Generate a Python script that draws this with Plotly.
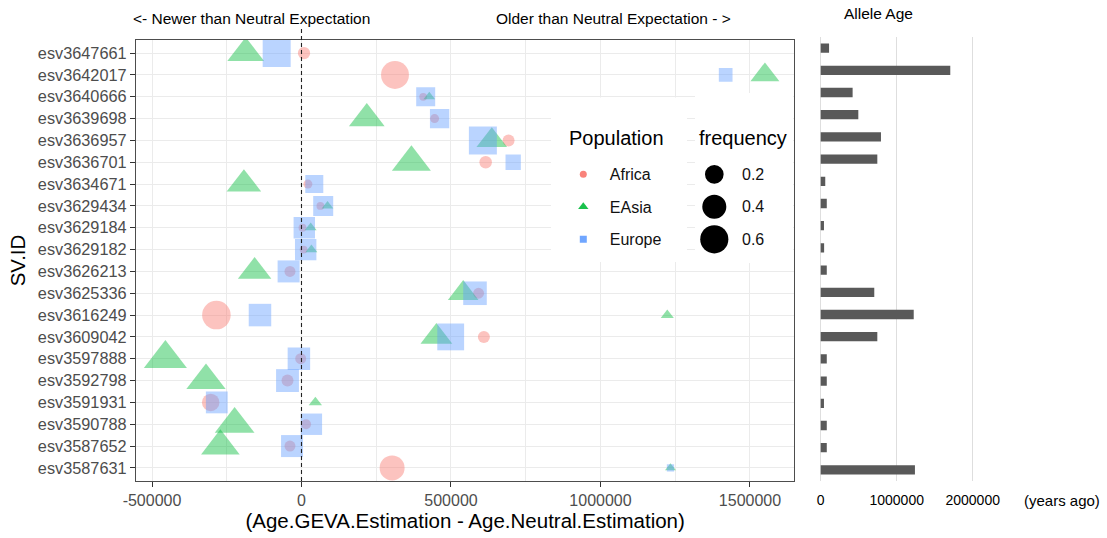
import math
import plotly.graph_objects as go

# ---------------- data ----------------
sv_ids = ["esv3647661", "esv3642017", "esv3640666", "esv3639698", "esv3636957",
          "esv3636701", "esv3634671", "esv3629434", "esv3629184", "esv3629182",
          "esv3626213", "esv3625336", "esv3616249", "esv3609042", "esv3597888",
          "esv3592798", "esv3591931", "esv3590788", "esv3587652", "esv3587631"]

africa_diff = [8400, 312700, 407000, 445200, 692600, 616000, 21400, 63200, 3300, 7000,
               -38500, 592300, -284600, 610000, -2700, -46800, -303700, 15200, -38500, 303100]
africa_freq = [0.052, 0.586, 0.005, 0.013, 0.047, 0.055, 0.013, 0.005, 0.005, 0.005,
               0.033, 0.033, 0.62, 0.047, 0.033, 0.047, 0.166, 0.022, 0.033, 0.443]

easia_diff = [-186600, 1550000, 427400, 218400, 636400, 367600, -192600, 87000, 30800, 33100,
              -156800, 540800, 1223400, 451200, -455200, -319400, 46400, -223700, -271300, 1234000]
easia_freq = [0.42, 0.22, 0.005, 0.39, 0.257, 0.49, 0.356, 0.005, 0.006, 0.006,
              0.327, 0.257, 0.011, 0.286, 0.63, 0.50, 0.012, 0.514, 0.476, 0.003]

europe_diff = [-83000, 1418700, 415400, 461900, 606600, 708000, 42800, 72600, 9400, 14000,
               -43100, 580300, -138800, 499000, -8700, -46800, -283300, 33100, -31600, 1234000]
europe_freq = [0.59, 0.076, 0.21, 0.22, 0.59, 0.11, 0.18, 0.243, 0.293, 0.293,
               0.316, 0.38, 0.336, 0.53, 0.336, 0.35, 0.31, 0.293, 0.316, 0.003]

allele_age = [110000, 1705000, 420000, 495000, 793000, 745000, 60000, 80000, 43000, 45000,
              80000, 705000, 1224000, 745000, 80000, 80000, 43000, 80000, 80000, 1240000]

x_tick_vals = [-500000, 0, 500000, 1000000, 1500000]
x_tick_text = ["-500000", "0", "500000", "1000000", "1500000"]
age_tick_vals = [0, 1000000, 2000000]
age_tick_text = ["0", "1000000", "2000000"]
freq_legend_vals = [0.2, 0.4, 0.6]
freq_legend_text = ["0.2", "0.4", "0.6"]

# ---------------- geometry helpers ----------------
W, H = 1107, 538
ML, MR, MT, MB = 136, 73, 37, 57
PW = W - ML - MR
PH = H - MT - MB


def px_x(px):
    return (px - ML) / PW


def px_y(py):
    return (H - MB - py) / PH


def diam(f):
    # ggplot-like area scale for frequency -> marker diameter (px)
    return 5.7 + 29 * math.sqrt(max(f, 0))


FONT = "Liberation Sans, Arial, Helvetica, sans-serif"
ALPHA = 0.62

fig = go.Figure()

pops = [
    ("Africa", africa_diff, africa_freq, "circle", "248,118,109", 1.0, 7),
    ("EAsia", easia_diff, easia_freq, "triangle-up", "0,186,56", 1.3, 9),
    ("Europe", europe_diff, europe_freq, "square", "97,156,255", 1.0, 7),
]
for name, diff, freq, sym, rgb, k, lsize in pops:
    fig.add_trace(go.Scatter(
        x=diff, y=sv_ids, mode="markers", name=name, showlegend=False,
        marker=dict(symbol=sym, size=[k * diam(f) for f in freq],
                    color=f"rgba({rgb},{ALPHA})", line=dict(width=0)),
        xaxis="x", yaxis="y", cliponaxis=True,
        hovertemplate=name + ": %{x}<extra>%{y}</extra>"))
for name, diff, freq, sym, rgb, k, lsize in pops:
    fig.add_trace(go.Scatter(
        x=[None], y=[None], mode="markers", name=name, legendgroup=name,
        marker=dict(symbol=sym, size=lsize, color=f"rgba({rgb},0.9)", line=dict(width=0)),
        xaxis="x", yaxis="y", showlegend=True))

fig.add_trace(go.Bar(
    x=allele_age, y=sv_ids, orientation="h", xaxis="x2", yaxis="y2",
    marker=dict(color="#595959", line=dict(width=0)), width=0.42, showlegend=False))

shapes = []
# dashed zero line
shapes.append(dict(type="line", xref="x", yref="paper", x0=0, x1=0,
                   y0=px_y(481), y1=px_y(27),
                   line=dict(color="#222222", width=1.1, dash="4px,3px"), layer="above"))
# legend backgrounds
shapes.append(dict(type="rect", xref="paper", yref="paper",
                   x0=px_x(551), x1=px_x(687), y0=px_y(262), y1=px_y(97.5),
                   fillcolor="white", line=dict(width=0), layer="above"))
shapes.append(dict(type="rect", xref="paper", yref="paper",
                   x0=px_x(695), x1=px_x(793), y0=px_y(263), y1=px_y(93),
                   fillcolor="white", line=dict(width=0), layer="above"))
legend_rows = [174.3, 206.7, 239.3]
annotations = []
for v, t, yc in zip(freq_legend_vals, freq_legend_text, legend_rows):
    r = diam(v) / 2
    shapes.append(dict(type="circle", xref="paper", yref="paper",
                       xsizemode="pixel", ysizemode="pixel",
                       xanchor=px_x(714.3), yanchor=px_y(yc),
                       x0=-r, x1=r, y0=-r, y1=r,
                       fillcolor="black", line=dict(width=0), layer="above"))
    annotations.append(dict(text=t, x=px_x(740), y=px_y(yc), xref="paper", yref="paper",
                            xanchor="left", yanchor="middle", showarrow=False,
                            font=dict(size=16, color="#111111", family=FONT)))

annotations += [
    dict(text="Population", x=px_x(616.4), y=px_y(138), xref="paper", yref="paper",
         xanchor="center", yanchor="middle", showarrow=False,
         font=dict(size=20, color="black", family=FONT)),
    dict(text="frequency", x=px_x(743), y=px_y(138), xref="paper", yref="paper",
         xanchor="center", yanchor="middle", showarrow=False,
         font=dict(size=20, color="black", family=FONT)),
    dict(text="<- Newer than Neutral Expectation", x=px_x(251), y=px_y(18.5),
         xref="paper", yref="paper", xanchor="center", yanchor="middle", showarrow=False,
         font=dict(size=15.5, color="black", family=FONT)),
    dict(text="Older than Neutral Expectation - >", x=px_x(613), y=px_y(18.5),
         xref="paper", yref="paper", xanchor="center", yanchor="middle", showarrow=False,
         font=dict(size=15.5, color="black", family=FONT)),
    dict(text="Allele Age", x=px_x(878), y=px_y(14), xref="paper", yref="paper",
         xanchor="center", yanchor="middle", showarrow=False,
         font=dict(size=15.5, color="black", family=FONT)),
    dict(text="(years ago)", x=px_x(1062), y=px_y(500.7), xref="paper", yref="paper",
         xanchor="center", yanchor="middle", showarrow=False,
         font=dict(size=15, color="black", family=FONT)),
]

fig.update_layout(
    width=W, height=H,
    margin=dict(l=ML, r=MR, t=MT, b=MB, pad=0),
    paper_bgcolor="white", plot_bgcolor="white",
    font=dict(family=FONT, color="#4D4D4D"),
    showlegend=True,
    legend=dict(
        x=px_x(556.8), y=px_y(157.3), xanchor="left", yanchor="top",
        bgcolor="rgba(0,0,0,0)", borderwidth=0,
        font=dict(size=16, color="#111111", family=FONT),
        itemwidth=43, tracegroupgap=8.7, traceorder="grouped",
        itemclick=False, itemdoubleclick=False),
    xaxis=dict(
        domain=[0, px_x(794.3)], anchor="y", range=[-553500, 1648200],
        tickmode="array", tickvals=x_tick_vals, ticktext=x_tick_text,
        showgrid=True, gridcolor="#EBEBEB", gridwidth=1.2,
        minor=dict(tickmode="array", tickvals=[-250000, 250000, 750000, 1250000],
                   showgrid=True, gridcolor="#EBEBEB", gridwidth=1.0, ticks=""),
        zeroline=False, showline=True, linecolor="#4D4D4D", linewidth=1.3, mirror=True,
        ticks="outside", ticklen=5, tickwidth=1.2, tickcolor="#333333",
        tickfont=dict(size=16, color="#4D4D4D"),
        title=dict(text="(Age.GEVA.Estimation - Age.Neutral.Estimation)",
                   font=dict(size=20.5, color="black"), standoff=2),
        automargin=False),
    yaxis=dict(
        domain=[0, px_y(40)], anchor="x", type="category",
        categoryorder="array", categoryarray=sv_ids, range=[19.6, -0.6],
        showgrid=True, gridcolor="#EBEBEB", gridwidth=1.2,
        zeroline=False, showline=True, linecolor="#4D4D4D", linewidth=1.3, mirror=True,
        ticks="outside", ticklen=5, tickwidth=1.2, tickcolor="#333333",
        tickfont=dict(size=16.3, color="#4D4D4D"),
        title=dict(text="SV.ID", font=dict(size=20.5, color="black"), standoff=6),
        automargin=False),
    xaxis2=dict(
        domain=[px_x(805.5), 1.0], anchor="y2", range=[-200000, 2806600],
        tickmode="array", tickvals=age_tick_vals, ticktext=age_tick_text,
        showgrid=True, gridcolor="#DEDEDE", gridwidth=1.2,
        zeroline=False, showline=False, ticks="", ticklabelstandoff=9,
        tickfont=dict(size=14, color="black"), automargin=False),
    yaxis2=dict(
        domain=[0, 1], anchor="x2", type="category",
        categoryorder="array", categoryarray=sv_ids, range=[19.5, -0.5],
        showgrid=False, zeroline=False, showline=False, showticklabels=False, ticks="",
        automargin=False),
    shapes=shapes,
    annotations=annotations,
    bargap=0.5,
)

fig.write_html("out.html")
